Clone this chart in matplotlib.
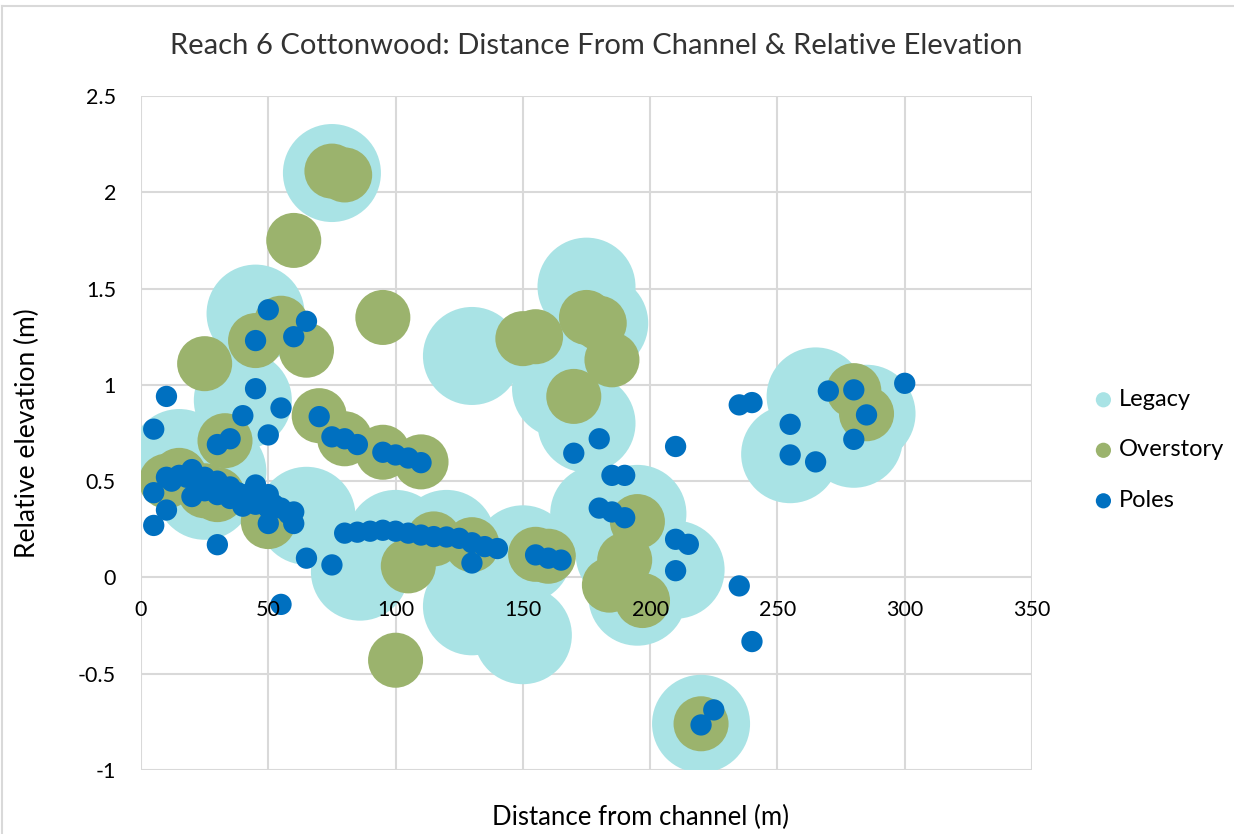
import numpy as np
import matplotlib.pyplot as plt
from matplotlib.lines import Line2D

# Legacy trees (distance from channel, relative elevation)
legacy_x = [75, 45, 40, 15, 25, 30, 65, 86, 100, 120, 130, 150, 130, 150,
            175, 180, 165, 175, 180, 195, 190, 195, 210, 220, 265, 255, 285, 280]
legacy_y = [2.10, 1.37, 0.92, 0.62, 0.45, 0.55, 0.32, 0.03, 0.20, 0.20, 1.15, 0.12, -0.15, -0.30,
            1.51, 1.32, 0.98, 0.80, 0.33, 0.33, 0.12, -0.10, 0.04, -0.76, 0.94, 0.64, 0.85, 0.72]

# Overstory trees
over_x = [75, 80, 60, 25, 45, 55, 65, 95, 33, 70, 80, 95, 110, 10, 15, 25, 30, 50,
          105, 100, 115, 130, 155, 160, 150, 155, 175, 180, 185, 170,
          195, 190, 184, 197, 220, 280, 285]
over_y = [2.11, 2.09, 1.75, 1.11, 1.23, 1.32, 1.18, 1.35, 0.71, 0.84, 0.72, 0.65, 0.60, 0.50, 0.53, 0.45, 0.43, 0.29,
          0.06, -0.43, 0.20, 0.17, 0.12, 0.11, 1.24, 1.25, 1.35, 1.32, 1.13, 0.94,
          0.29, 0.09, -0.04, -0.12, -0.76, 0.97, 0.85]

# Poles
poles_x = [50, 65, 60, 45, 10, 45, 55, 40, 5, 50, 35, 30,
           70, 75, 80, 85, 95, 100, 105, 110,
           10, 12, 15, 18, 20, 22, 20, 25, 25, 28, 30, 30, 32, 35, 35, 38, 40, 40, 42,
           45, 45, 48, 50, 50, 52, 55, 58, 60, 60, 50, 5, 10, 5, 30,
           65, 75, 55,
           80, 85, 90, 95, 100, 105, 110, 115, 120, 125, 130, 135, 140, 130,
           155, 160, 165, 170, 180, 185, 190, 180, 185, 190,
           210, 210, 215, 210,
           235, 240, 255, 255, 265, 270, 280, 285, 280, 300,
           235, 240, 225, 220]
poles_y = [1.39, 1.33, 1.25, 1.23, 0.94, 0.98, 0.88, 0.84, 0.77, 0.74, 0.72, 0.69,
           0.835, 0.73, 0.72, 0.69, 0.65, 0.636, 0.62, 0.596,
           0.52, 0.50, 0.53, 0.52, 0.56, 0.50, 0.42, 0.52, 0.45, 0.48, 0.50, 0.43, 0.46, 0.47, 0.41, 0.44, 0.43, 0.37, 0.40,
           0.48, 0.38, 0.42, 0.43, 0.36, 0.38, 0.36, 0.33, 0.34, 0.28, 0.28, 0.44, 0.35, 0.27, 0.17,
           0.10, 0.065, -0.14,
           0.23, 0.235, 0.24, 0.245, 0.24, 0.23, 0.22, 0.212, 0.21, 0.203, 0.18, 0.16, 0.15, 0.075,
           0.117, 0.10, 0.09, 0.645, 0.72, 0.53, 0.53, 0.36, 0.34, 0.31,
           0.68, 0.198, 0.172, 0.035,
           0.896, 0.908, 0.795, 0.636, 0.60, 0.968, 0.974, 0.844, 0.717, 1.008,
           -0.044, -0.333, -0.688, -0.766]

x_ticks = [0, 50, 100, 150, 200, 250, 300, 350]
y_ticks = [-1, -0.5, 0, 0.5, 1, 1.5, 2, 2.5]

FONT = ['Lato', 'DejaVu Sans']
plt.rcParams['font.family'] = FONT

fig = plt.figure(figsize=(12.34, 8.34), dpi=100)
ax = fig.add_axes([141 / 1234, 1 - 770 / 834, 891 / 1234, 674 / 834])

grid_c = '#D9D9D9'
for t in x_ticks:
    ax.axvline(t, color=grid_c, lw=1.5, zorder=0)
for t in y_ticks:
    ax.axhline(t, color=grid_c, lw=1.5, zorder=0)

ax.scatter(legacy_x, legacy_y, s=4980, color='#A9E3E5', edgecolors='none', zorder=1, label='Legacy')
ax.scatter(over_x, over_y, s=1570, color='#9BB36D', edgecolors='none', zorder=1.1, label='Overstory')
ax.scatter(poles_x, poles_y, s=235, color='#0070C0', edgecolors='none', zorder=1.2, label='Poles')

ax.set_xlim(0, 350)
ax.set_ylim(-1, 2.5)
ax.set_xticks(x_ticks)
ax.set_yticks(y_ticks)
ax.set_xticklabels([str(t) for t in x_ticks])
ax.set_yticklabels(['{:g}'.format(t) for t in y_ticks])
for sp in ax.spines.values():
    sp.set_visible(False)
ax.spines['bottom'].set_position(('data', 0))
ax.set_axisbelow(False)
ax.tick_params(axis='both', length=0, labelsize=15.5, colors='#000000')
ax.tick_params(axis='x', pad=16)
ax.tick_params(axis='y', pad=18)

ax.set_xlabel('Distance from channel (m)', fontsize=18.5)
ax.xaxis.set_label_coords((640 - 141) / 891, (770 - 805) / 674)
ax.set_ylabel('Relative elevation (m)', fontsize=19)
ax.yaxis.set_label_coords((40 - 141) / 891, (770 - 433) / 674)

fig.text(596 / 1234, 1 - 46 / 834, 'Reach 6 Cottonwood: Distance From Channel & Relative Elevation',
         ha='center', va='center', fontsize=21, color='#333333')

leg = fig.legend(handles=ax.collections[:3], labels=['Legacy', 'Overstory', 'Poles'],
                 loc='center left', bbox_to_anchor=(1068 / 1234, 1 - 450 / 834), frameon=False,
                 fontsize=17, labelspacing=1.25, handletextpad=0.05, handlelength=1.2,
                 borderpad=0.4)
for h in leg.legend_handles:
    h.set_sizes([120])

# chart area border (top and left edges visible)
fig.add_artist(Line2D([2 / 1234, 2 / 1234], [0, 1 - 6 / 834], transform=fig.transFigure, color='#D9D9D9', lw=1.5))
fig.add_artist(Line2D([2 / 1234, 1], [1 - 6 / 834, 1 - 6 / 834], transform=fig.transFigure, color='#D9D9D9', lw=1.5))

fig.savefig('out.png', dpi=100)
